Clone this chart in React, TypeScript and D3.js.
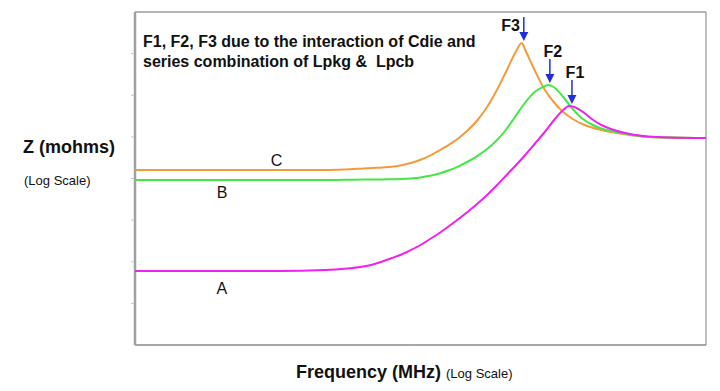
import React from 'react';
import * as d3 from 'd3';

// frequency (MHz) and impedance (mohms), both log scale
const freqC = [0.001, 0.01, 0.0316, 0.1, 0.158, 0.251, 0.316, 0.398, 0.501, 0.631, 0.794, 1, 1.26, 1.58, 2.0, 2.51, 3.16, 3.98, 5.01, 6.31, 7.94, 10, 11.6, 12.6, 15.8, 20, 25.1, 31.6, 39.8, 50.1, 63.1, 79.4, 100, 158, 251, 398, 1000];
const zC = [1600, 1600, 1600, 1600, 1645, 1739, 1788, 1838, 1910, 2087, 2357, 2813, 3549, 4706, 6486, 9294, 14550, 25430, 52200, 130100, 372000, 1094000, 1800000, 1222000, 404200, 141300, 68840, 39590, 26880, 20390, 16800, 14630, 13100, 11090, 9931, 9661, 9397];

const freqB = [0.001, 0.01, 0.0316, 0.1, 0.158, 0.251, 0.316, 0.398, 0.501, 0.631, 0.794, 1, 1.26, 1.58, 2.0, 2.51, 3.16, 3.98, 5.01, 6.31, 7.94, 10, 12.6, 15.8, 20, 21.8, 25.1, 31.6, 39.8, 50.1, 63.1, 79.4, 100, 158, 251, 398, 1000];
const zB = [920, 920, 920, 920, 931, 941, 946, 951, 962, 973, 1006, 1063, 1161, 1319, 1574, 1964, 2561, 3510, 5113, 8183, 15040, 31730, 66960, 119700, 164100, 176300, 157800, 90780, 46730, 27630, 19830, 15900, 13840, 11400, 9931, 9661, 9397];

const freqA = [0.001, 0.01, 0.0316, 0.1, 0.158, 0.251, 0.316, 0.398, 0.501, 0.631, 0.794, 1, 1.26, 1.58, 2.0, 2.51, 3.16, 3.98, 5.01, 6.31, 7.94, 10, 12.6, 15.8, 20, 25.1, 31.6, 36.3, 39.8, 50.1, 63.1, 79.4, 100, 158, 251, 398, 1000];
const zA = [6.0, 6.0, 6.0, 6.34, 6.77, 7.69, 8.59, 10.14, 12.31, 14.94, 19.16, 25.26, 35.2, 49.06, 72.24, 106.4, 161.2, 250.9, 401.6, 678.7, 1181, 2053, 3669, 6742, 12740, 24740, 44220, 55150, 53650, 40690, 26880, 19290, 15460, 11730, 10210, 9661, 9397];

const seriesNames = ['C', 'B', 'A'];
const seriesColors = ['#f59a3c', '#44e844', '#f020f0'];
const seriesFreqs = [freqC, freqB, freqA];
const seriesZ = [zC, zB, zA];

// curve letter labels, in data units (frequency, impedance)
const labelFreq = [0.0307, 0.00824, 0.00815];
const labelZ = [1995, 340, 1.68];

// resonance markers
const markerNames = ['F3', 'F2', 'F1'];

const yTicks = [1, 10, 100, 1000, 10000, 100000, 1000000];

const W = 720;
const H = 391;
const margin = { top: 12, right: 14, bottom: 46, left: 135 };
const font = 'Liberation Sans, Arial, sans-serif';

export default function App() {
  const x = d3.scaleLog().domain([0.001, 1000]).range([margin.left, W - margin.right]);
  const y = d3.scaleLog().domain([0.1, 1e7]).range([H - margin.bottom, margin.top]);

  const line = d3.line<[number, number]>()
    .x(d => x(d[0]))
    .y(d => y(d[1]))
    .curve(d3.curveMonotoneX);

  const x0 = margin.left;
  const x1 = W - margin.right;
  const y0 = margin.top;
  const y1 = H - margin.bottom;

  return (
    <svg width={W} height={H} style={{ position: 'absolute', left: 0, top: 0, background: '#fff' }} fontFamily={font}>
      {/* frame */}
      <line x1={x0} y1={y0} x2={x1} y2={y0} stroke="#9a9a9a" strokeWidth={1.5} />
      <line x1={x1} y1={y0} x2={x1} y2={y1} stroke="#aaaaaa" strokeWidth={1.5} />
      <line x1={x0} y1={y1} x2={x1} y2={y1} stroke="#8a8a8a" strokeWidth={1.5} />
      <line x1={x0} y1={y0} x2={x0} y2={y1} stroke="#a0a0a0" strokeWidth={2.5} />
      {yTicks.map(t => (
        <line key={t} x1={x0 - 4} x2={x0 - 1} y1={y(t)} y2={y(t)} stroke="#c8c8c8" strokeWidth={1} />
      ))}

      {/* curves */}
      {seriesNames.map((name, i) => {
        const pts = seriesFreqs[i].map((f, j) => [f, seriesZ[i][j]] as [number, number]);
        return (
          <path key={name} d={line(pts) || ''} fill="none" stroke={seriesColors[i]} strokeWidth={2} />
        );
      })}

      {/* curve letters */}
      {seriesNames.map((name, i) => (
        <text key={'l' + name} x={x(labelFreq[i])} y={y(labelZ[i])} textAnchor="middle" fontSize={16} fill="#111">
          {name}
        </text>
      ))}

      {/* resonance arrows */}
      {markerNames.map((m, i) => {
        const zs = seriesZ[i];
        const k = zs.indexOf(d3.max(zs) as number);
        const px = x(seriesFreqs[i][k]) + (i === 2 ? 3 : 2);
        const tip = y(zs[k]) - 2;
        const top = tip - 24;
        const tx = i === 0 ? px - 4 : px + 3;
        const anchor = i === 0 ? 'end' : 'middle';
        const ty = i === 0 ? top + 14 : top - 2;
        return (
          <g key={m}>
            <line x1={px} x2={px} y1={top} y2={tip - 7} stroke="#1f2fe0" strokeWidth={1.5} />
            <path d={`M${px - 4.5},${tip - 9}L${px + 4.5},${tip - 9}L${px},${tip}Z`} fill="#1f2fe0" />
            <text x={tx} y={ty} textAnchor={anchor} fontSize={16} fontWeight="bold" fill="#111">{m}</text>
          </g>
        );
      })}

      {/* note */}
      <text x={143} y={47} fontSize={16} fontWeight="bold" fill="#111">
        F1, F2, F3 due to the interaction of Cdie and
      </text>
      <text x={143} y={67} fontSize={16} fontWeight="bold" fill="#111">
        {'series combination of Lpkg &\u00a0 Lpcb'}
      </text>

      {/* axis titles */}
      <text x={23} y={153} fontSize={18} fontWeight="bold" fill="#111">Z (mohms)</text>
      <text x={24} y={185} fontSize={13} fill="#111">(Log Scale)</text>
      <text x={296} y={378} fontSize={18} fontWeight="bold" fill="#111">
        Frequency (MHz)
        <tspan fontSize={13} fontWeight="normal" dx={5}>(Log Scale)</tspan>
      </text>
    </svg>
  );
}
